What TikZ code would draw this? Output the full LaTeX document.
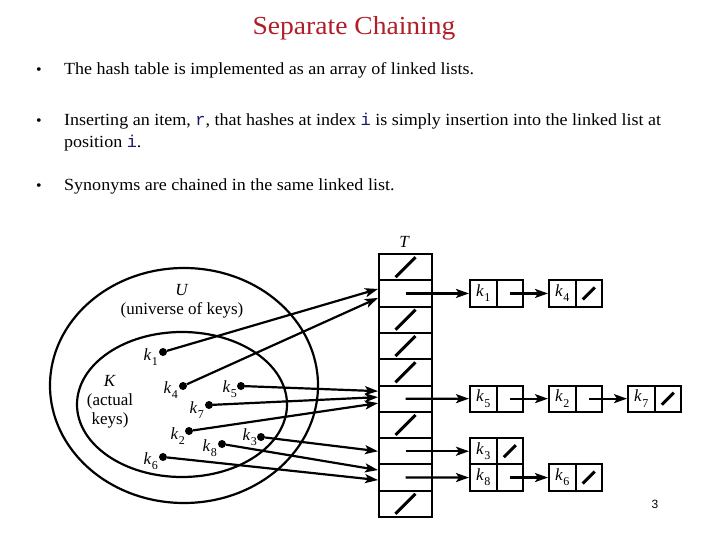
\documentclass[tikz,border=0pt]{standalone}
\usepackage{fontspec}
\setmainfont{Liberation Serif}
\newfontfamily\bodyfont{Liberation Serif}[FakeStretch=1.06]
\newfontfamily\codefont{Liberation Mono}
\newfontfamily\numfont{Liberation Sans}
\usetikzlibrary{arrows.meta,calc}
\definecolor{titlered}{RGB}{176,30,40}
\definecolor{codeblue}{RGB}{25,25,110}
\newcommand\klab[1]{\textit{k}\kern0.3pt\raisebox{-0.3em}{\fontsize{12}{12}\selectfont #1}}
\newcommand\cd[1]{{\codefont\color{codeblue}#1}}
\begin{document}
\begin{tikzpicture}[x=1pt,y=-1pt,
  cell/.style={draw,line width=2pt,minimum width=53pt,minimum height=26.3pt,inner sep=0pt},
  half/.style={draw,line width=2pt,minimum width=26.5pt,minimum height=26.3pt,inner sep=0pt,font=\fontsize{17}{17}\selectfont},
  arr/.style={line width=2.2pt,-{Stealth[length=13pt,width=9pt,inset=3pt]}},
  nullslash/.style={line width=3pt},
  dotk/.style={circle,fill,inner sep=0pt,minimum size=8pt},
  ring/.style={line width=2.2pt},
  body/.style={anchor=base west,inner sep=0pt,font=\bodyfont\fontsize{17}{20}\selectfont},
  bullet/.style={anchor=base west,inner sep=0pt,font=\bodyfont\fontsize{15}{15}\selectfont},
  klabel/.style={anchor=base east,inner sep=0pt,font=\fontsize{17}{17}\selectfont},
  setlabel/.style={inner sep=0pt,align=center,font=\fontsize{17}{19}\selectfont}
]
\useasboundingbox (0,0) rectangle (720,540);
\fill[white] (0,0) rectangle (720,540);

% title and text
\node[anchor=base,inner sep=0pt,text=titlered,font=\bodyfont\fontsize{26}{30}\selectfont] (title) at (354,35) {Separate Chaining};
\node[bullet] (b1) at (36,75) {•};
\node[body] (t1txt) at (64,75) {The hash table is implemented as an array of linked lists.};
\node[bullet] (b2) at (36,126) {•};
\node[body] (t2txt) at (64,126) {Inserting an item, \cd{r}, that hashes at index \cd{i} is simply insertion into the linked list at};
\node[body] (t2btxt) at (64,147.5) {position \cd{i}.};
\node[bullet] (b3) at (36,191) {•};
\node[body] (t3txt) at (64,191) {Synonyms are chained in the same linked list.};

% sets
\draw[ring] (184,385.5) ellipse [x radius=134pt, y radius=117.5pt];
\draw[ring] (182,404.5) ellipse [x radius=105pt, y radius=72.5pt];
\node[setlabel] (U) at (182,301) {\textit{U}\\(universe of keys)};
\node[setlabel] (K) at (110,402) {\textit{K}\\(actual\\keys)};

% table
\node[inner sep=0pt,font=\itshape\fontsize{17}{17}\selectfont] (T) at (404,242) {T};
\foreach \i in {1,...,10}{
  \node[cell] (t\i) at (405.5,{254+(\i-0.5)*26.3}) {};
}
\foreach \i in {1,3,4,5,7,10}{
  \draw[nullslash] ($(t\i.center)+(-10,10)$) -- ($(t\i.center)+(10,-10)$);
}

% lists
\node[half] (a1) at (483.25,293.45) {\klab{1}};
\node[half] (a1p) at (509.75,293.45) {};
\node[half] (a4) at (562.25,293.45) {\klab{4}};
\node[half] (a4p) at (588.75,293.45) {};
\node[half] (a5) at (483.25,398.65) {\klab{5}};
\node[half] (a5p) at (509.75,398.65) {};
\node[half] (a2) at (562.25,398.65) {\klab{2}};
\node[half] (a2p) at (588.75,398.65) {};
\node[half] (a7) at (641.25,398.65) {\klab{7}};
\node[half] (a7p) at (667.75,398.65) {};
\node[half] (a3) at (483.25,451.25) {\klab{3}};
\node[half] (a3p) at (509.75,451.25) {};
\node[half] (a8) at (483.25,477.55) {\klab{8}};
\node[half] (a8p) at (509.75,477.55) {};
\node[half] (a6) at (562.25,477.55) {\klab{6}};
\node[half] (a6p) at (588.75,477.55) {};
\foreach \n in {a4p,a7p,a3p,a6p}{
  \draw[nullslash] ($(\n.center)+(-6,6)$) -- ($(\n.center)+(6,-6)$);
}
\draw[arr] (t2.center) -- (a1.west);
\draw[arr] (a1p.center) -- (a4.west);
\draw[arr] (t6.center) -- (a5.west);
\draw[arr] (a5p.center) -- (a2.west);
\draw[arr] (a2p.center) -- (a7.west);
\draw[arr] (t8.center) -- (a3.west);
\draw[arr] (t9.center) -- (a8.west);
\draw[arr] (a8p.center) -- (a6.west);

% keys
\node[dotk] (d1) at (163,352) {};
\node[dotk] (d4) at (183,386) {};
\node[dotk] (d5) at (241,386) {};
\node[dotk] (d7) at (209,405) {};
\node[dotk] (d2) at (189,431) {};
\node[dotk] (d3) at (261,437) {};
\node[dotk] (d8) at (222,444) {};
\node[dotk] (d6) at (163,457) {};
\node[klabel] (l1) at (158,360) {\klab{1}};
\node[klabel] (l4) at (178,393) {\klab{4}};
\node[klabel] (l5) at (237,392) {\klab{5}};
\node[klabel] (l7) at (204,413) {\klab{7}};
\node[klabel] (l2) at (185,439) {\klab{2}};
\node[klabel] (l3) at (257,440) {\klab{3}};
\node[klabel] (l8) at (217,451) {\klab{8}};
\node[klabel] (l6) at (158,464) {\klab{6}};
\draw[arr] (d1) -- ([yshift=4.5pt]t2.west);
\draw[arr] (d4) -- ([yshift=-4.5pt]t2.west);
\draw[arr] (d5) -- ([yshift=7.5pt]t6.west);
\draw[arr] (d7) -- ([yshift=1.5pt]t6.west);
\draw[arr] (d2) -- ([yshift=-4.5pt]t6.west);
\draw[arr] (d3) -- (t8.west);
\draw[arr] (d8) -- ([yshift=7.5pt]t9.west);
\draw[arr] (d6) -- ([yshift=-2.5pt]t9.west);

\node[inner sep=0pt,font=\numfont\fontsize{12}{12}\selectfont] (pg) at (655,504) {3};
\end{tikzpicture}
\end{document}
